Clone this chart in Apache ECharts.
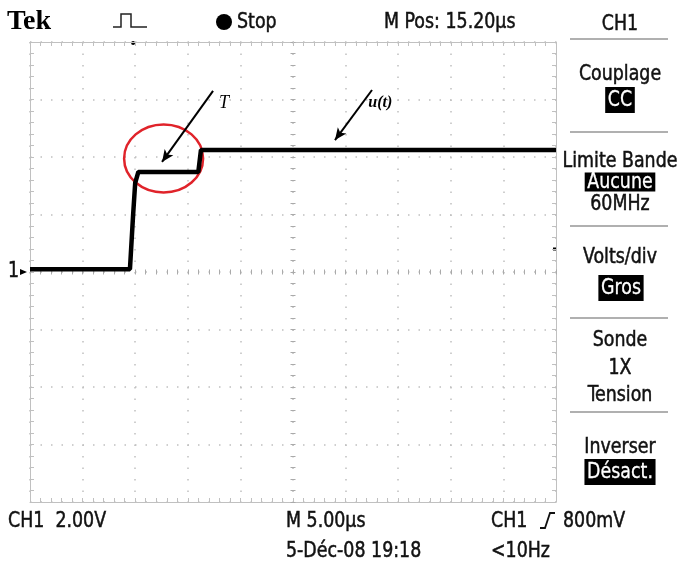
<!DOCTYPE html>
<html><head><meta charset="utf-8">
<script src="https://cdn.jsdelivr.net/npm/echarts@6/dist/echarts.min.js"></script>
<style>html,body{margin:0;padding:0;background:#fff}#c{width:680px;height:562px}</style>
</head><body><div id="c"></div>
<script>
// CH1 trace: time in µs relative to screen centre, voltage in V
const timeUs = [-25, -15.5, -15.2, -15.0, -14.7, -9.0, -8.75, 25];
const volts  = [0.1, 0.1, 1.98, 3.1, 3.48, 3.48, 4.24, 4.24];
// scope settings
const usPerDiv = 5, voltsPerDiv = 2;
const timeRange = [-25, 25], voltRange = [-8, 8];
const triggerPosUs = -15.2, triggerLevelV = 0.8, groundV = 0;
// annotations (data coordinates)
const ellipseCentre = [-12.3, 3.95];
const arrowT = [[-7.6, 6.30], [-12.45, 3.83]];
const arrowU = [[7.51, 6.33], [3.99, 4.59]];
const labelT = [-6.75, 5.88];
const labelU = [8.4, 5.88];
// texts
const headerTexts = ['Tek', 'Stop', 'M Pos: 15.20\u00b5s', 'CH1'];
const menuLabels = ['Couplage', 'Limite Bande', '60MHz', 'Volts/div', 'Sonde', '1X', 'Tension', 'Inverser'];
const menuBoxes = ['CC', 'Aucune', 'Gros', 'D\u00e9sact.'];
const footerTexts = ['CH1  2.00V', 'M 5.00\u00b5s', '5-D\u00e9c-08 19:18', 'CH1', '800mV', '<10Hz'];

const FONT = '"DejaVu Sans Condensed", "Liberation Sans Narrow", "DejaVu Sans", sans-serif';
const FS = '22px ';
const SX = 0.88;
const GRID_C = '#c0c0c0';
const chart = echarts.init(document.getElementById('c'), null, {renderer: 'canvas'});

function xAx(extra) {
  return Object.assign({
    type: 'value', min: timeRange[0], max: timeRange[1], interval: usPerDiv,
    axisLabel: {show: false}, splitLine: {show: false},
    axisLine: {show: true, onZero: false, lineStyle: {color: GRID_C, width: 1}},
    axisTick: {show: true, inside: true, length: 4, lineStyle: {color: GRID_C, width: 1}},
    minorTick: {show: true, splitNumber: 5, length: 4, lineStyle: {color: GRID_C, width: 1}}
  }, extra);
}
function yAx(extra) {
  return Object.assign({
    type: 'value', min: voltRange[0], max: voltRange[1], interval: voltsPerDiv,
    axisLabel: {show: false}, splitLine: {show: false},
    axisLine: {show: true, onZero: false, lineStyle: {color: GRID_C, width: 1}},
    axisTick: {show: true, inside: true, length: 4, lineStyle: {color: GRID_C, width: 1}},
    minorTick: {show: true, splitNumber: 5, length: 4, lineStyle: {color: GRID_C, width: 1}}
  }, extra);
}
const centreLine = () => ({show: false, onZero: true, onZeroAxisIndex: 0});
const cTick = (inside) => ({show: true, inside: inside, length: 2.5, lineStyle: {color: '#aaa', width: 1}});
const cMinor = {show: true, splitNumber: 5, length: 2.5, lineStyle: {color: '#aaa', width: 1}};

chart.setOption({
  animation: false,
  backgroundColor: '#fff',
  grid: {left: 30, right: 124, top: 42, bottom: 60, containLabel: false},
  xAxis: [
    xAx({position: 'bottom', splitLine: {show: true, lineStyle: {color: GRID_C, width: 1.5, type: [1.5, 10]}}}),
    xAx({position: 'top'}),
    xAx({position: 'bottom', axisLine: centreLine(), axisTick: cTick(true), minorTick: cMinor}),
    xAx({position: 'bottom', axisLine: centreLine(), axisTick: cTick(false), minorTick: cMinor})
  ],
  yAxis: [
    yAx({position: 'left', splitLine: {show: true, lineStyle: {color: GRID_C, width: 1.5, type: [1.5, 9]}}}),
    yAx({position: 'right'}),
    yAx({position: 'left', axisLine: centreLine(), axisTick: cTick(true), minorTick: cMinor}),
    yAx({position: 'left', axisLine: centreLine(), axisTick: cTick(false), minorTick: cMinor})
  ],
  series: [{
    type: 'line', xAxisIndex: 0, yAxisIndex: 0, symbol: 'none', smooth: false,
    data: timeUs.map((t, i) => [t, volts[i]]),
    lineStyle: {color: '#000', width: 4.5},
    markLine: {
      silent: true, symbol: ['none', 'arrow'], symbolSize: [8, 12],
      label: {show: false},
      lineStyle: {color: '#000', width: 2, type: 'solid'},
      data: [
        [{coord: arrowT[0]}, {coord: arrowT[1]}],
        [{coord: arrowU[0]}, {coord: arrowU[1]}]
      ]
    }
  }]
});

function px(p) { return chart.convertToPixel({gridIndex: 0}, p); }
const ec = px(ellipseCentre), lt = px(labelT), lu = px(labelU);
const g0 = px([timeRange[0], groundV]);
const trg = px([triggerPosUs, voltRange[1]]);
const lvl = px([timeRange[1], triggerLevelV]);

const txt = (x, y, s, o) => ({type: 'text', x: x, y: y, scaleX: SX,
  style: Object.assign({text: s, font: FS + FONT, fill: '#111', stroke: '#111', lineWidth: 0.5, textVerticalAlign: 'middle'}, o || {})});
const box = (x, y, s, o) => txt(x, y, s, Object.assign({textAlign: 'center', fill: '#fff', stroke: '#fff', lineWidth: 0.3, backgroundColor: '#000', padding: [3, 3, 1, 3]}, o || {}));
const sep = (y) => ({type: 'line', shape: {x1: 570, y1: y, x2: 668, y2: y}, style: {stroke: '#b0b0b0', lineWidth: 2}});
const ctr = (y, s) => txt(620, y, s, {textAlign: 'center'});
const plain = (x, y, s, font) => ({type: 'text', x: x, y: y, style: {text: s, font: font, fill: '#000', textVerticalAlign: 'middle'}});

chart.setOption({
  graphic: [
    // header
    plain(7, 22, headerTexts[0], 'bold 28px "Liberation Serif", serif'),
    {type: 'polyline', shape: {points: [[113, 27], [121, 27], [121, 14], [131, 14], [131, 27], [147, 27]]}, style: {stroke: '#222', lineWidth: 1.5, fill: null}},
    {type: 'circle', shape: {cx: 224, cy: 22, r: 8}, style: {fill: '#000'}},
    txt(237, 22, headerTexts[1]),
    txt(384, 22, headerTexts[2]),
    ctr(24, headerTexts[3]),
    // menu
    sep(39), ctr(74, menuLabels[0]), box(620, 100, menuBoxes[0]),
    sep(132), ctr(161, menuLabels[1]), box(620, 182, menuBoxes[1], {lineHeight: 19, padding: [0, 3, 0, 3]}), ctr(204, menuLabels[2]),
    sep(226), ctr(257, menuLabels[3]), box(621, 288, menuBoxes[2]),
    sep(318), ctr(340, menuLabels[4]), ctr(368, menuLabels[5]), ctr(395, menuLabels[6]),
    sep(412), ctr(447, menuLabels[7]), box(620, 472, menuBoxes[3]),
    // footer
    txt(8, 521, footerTexts[0]),
    txt(286, 521, footerTexts[1]),
    txt(286, 551, footerTexts[2]),
    txt(491, 521, footerTexts[3]),
    {type: 'polyline', shape: {points: [[540, 528], [545, 528], [550, 513], [555, 513]]}, style: {stroke: '#111', lineWidth: 1.8, fill: null}},
    txt(563, 521, footerTexts[4]),
    txt(491, 551, footerTexts[5]),
    // markers
    txt(g0[0] - 22, g0[1] - 1, '1'),
    {type: 'polygon', shape: {points: [[g0[0] - 10, g0[1] - 3], [g0[0] - 3, g0[1]], [g0[0] - 10, g0[1] + 3]]}, style: {fill: '#000'}},
    {type: 'circle', shape: {cx: trg[0], cy: trg[1] + 1, r: 2}, style: {fill: '#000'}},
    {type: 'rect', shape: {x: lvl[0] - 3, y: lvl[1] - 1.5, width: 4, height: 3}, style: {fill: '#000'}},
    // annotations
    {type: 'ellipse', shape: {cx: ec[0], cy: ec[1], rx: 39.5, ry: 34}, style: {stroke: '#e0232a', lineWidth: 2.5, fill: null}},
    plain(lt[0] - 3, lt[1], 'T', 'italic 18px "Liberation Serif", serif'),
    plain(lu[0] - 13, lu[1], 'u(t)', 'italic bold 16px "Liberation Serif", serif')
  ]
});
</script></body></html>
